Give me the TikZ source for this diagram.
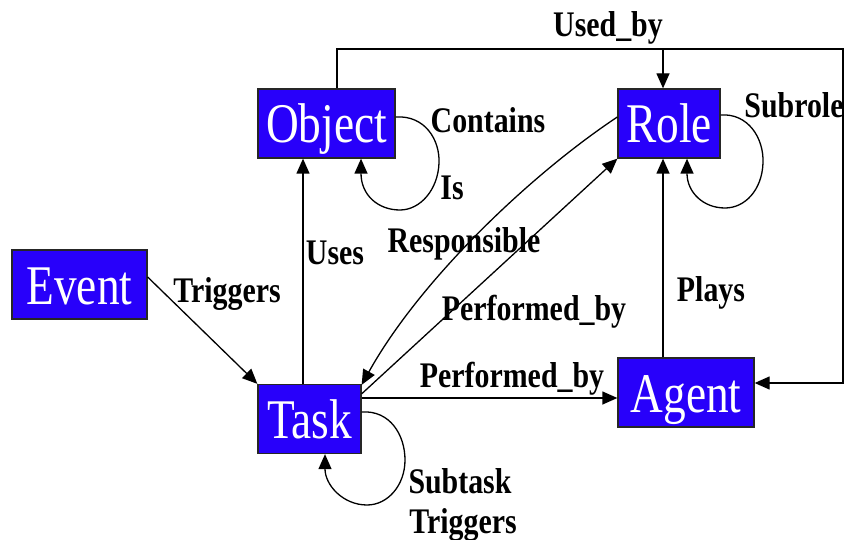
\documentclass[tikz,border=0pt]{standalone}
\usepackage{fontspec}
\setmainfont{Liberation Serif}
\newfontfamily\boxfont[FakeStretch=0.81]{Liberation Serif}
\newfontfamily\labfont[FakeStretch=0.83]{Liberation Serif}
\usetikzlibrary{arrows.meta}
\definecolor{boxblue}{RGB}{40,0,250}
\begin{document}
\begin{tikzpicture}[x=1pt,y=-1pt,
  ent/.style={draw=black!85,line width=1.3pt,fill=boxblue,text=white,
    font=\boxfont\fontsize{56}{56}\selectfont,inner xsep=0pt,inner ysep=0pt,
    text height=54pt,text depth=15pt},
  lab/.style={font=\labfont\bfseries\fontsize{36}{36}\selectfont,inner sep=0pt,anchor=base},
  arr/.style={line width=1.3pt,-{Triangle[length=15pt,width=13pt]}},
  ln/.style={line width=1.3pt}]
\useasboundingbox (0,0) rectangle (846,540);

% entities
\node[ent,minimum width=137pt] (obj) at (326.5,123.5) {Object};
\node[ent,minimum width=102pt] (role) at (669,123.5) {Role};
\node[ent,minimum width=135pt] (event) at (79.5,284.5) {Event};
\node[ent,minimum width=103pt] (task) at (309.5,419) {Task};
\node[ent,minimum width=136pt] (agent) at (686,392.5) {Agent};

% Used_by
\draw[arr] ([xshift=10.5pt]obj.north) |- (843,49) |- ([yshift=9.5pt]agent.east);
\coordinate (ub) at (663,49);
\draw[arr] (ub) -- (ub |- role.north);

% Object self loop
\draw[arr] ([yshift=6.5pt]obj.east) .. controls (425,115) and (440,140) .. (439,163)
  .. controls (438,190) and (420,210) .. (400,210)
  .. controls (378,210) and (361,195) .. ([xshift=34.5pt]obj.south);

% Role self loop
\draw[arr] ([yshift=8.5pt]role.east) .. controls (748,113) and (764,138) .. (763,163)
  .. controls (762,190) and (745,208) .. (725,208)
  .. controls (703,208) and (687,192) .. ([xshift=18pt]role.south);

% Task self loop
\draw[arr] ([yshift=7pt]task.east) .. controls (390,410) and (405,435) .. (405,460)
  .. controls (405,485) and (388,505) .. (367,505)
  .. controls (343,505) and (325,485) .. ([xshift=15.5pt]task.south);

% Uses
\draw[arr] ([xshift=-6.5pt]task.north) -- ([xshift=-6.5pt]task.north |- obj.south);

% Triggers
\draw[arr] ([yshift=7.5pt]event.east) -- (task.north west);

% Responsible
\draw[arr] ([yshift=6.5pt]role.west) .. controls (530,175) and (420,280) .. ([yshift=-1pt]task.north east);

% Performed_by diagonal
\draw[arr] ([yshift=-10pt]task.north east) -- (role.south west);

% Performed_by horizontal
\draw[arr] ([yshift=21pt]task.east) -- ([yshift=21pt]task.east -| agent.west);

% Plays
\draw[arr] ([xshift=-23pt]agent.north) -- ([xshift=-23pt]agent.north |- role.south);

% labels
\node[lab] (lusedby) at (608,37) {Used\_by};
\node[lab] (lcontains) at (488,133) {Contains};
\node[lab] (lis) at (452,200) {Is};
\node[lab] (lsubrole) at (794,118) {Subrole};
\node[lab] (luses) at (335,265) {Uses};
\node[lab] (ltrig) at (227,302) {Triggers};
\node[lab] (lresp) at (464,252) {Responsible};
\node[lab] (lperf1) at (534,320) {Performed\_by};
\node[lab] (lperf2) at (512,387) {Performed\_by};
\node[lab] (lplays) at (711,301) {Plays};
\node[lab] (lsubtask) at (460,493) {Subtask};
\node[lab] (ltrig2) at (463,533) {Triggers};
\end{tikzpicture}
\end{document}
